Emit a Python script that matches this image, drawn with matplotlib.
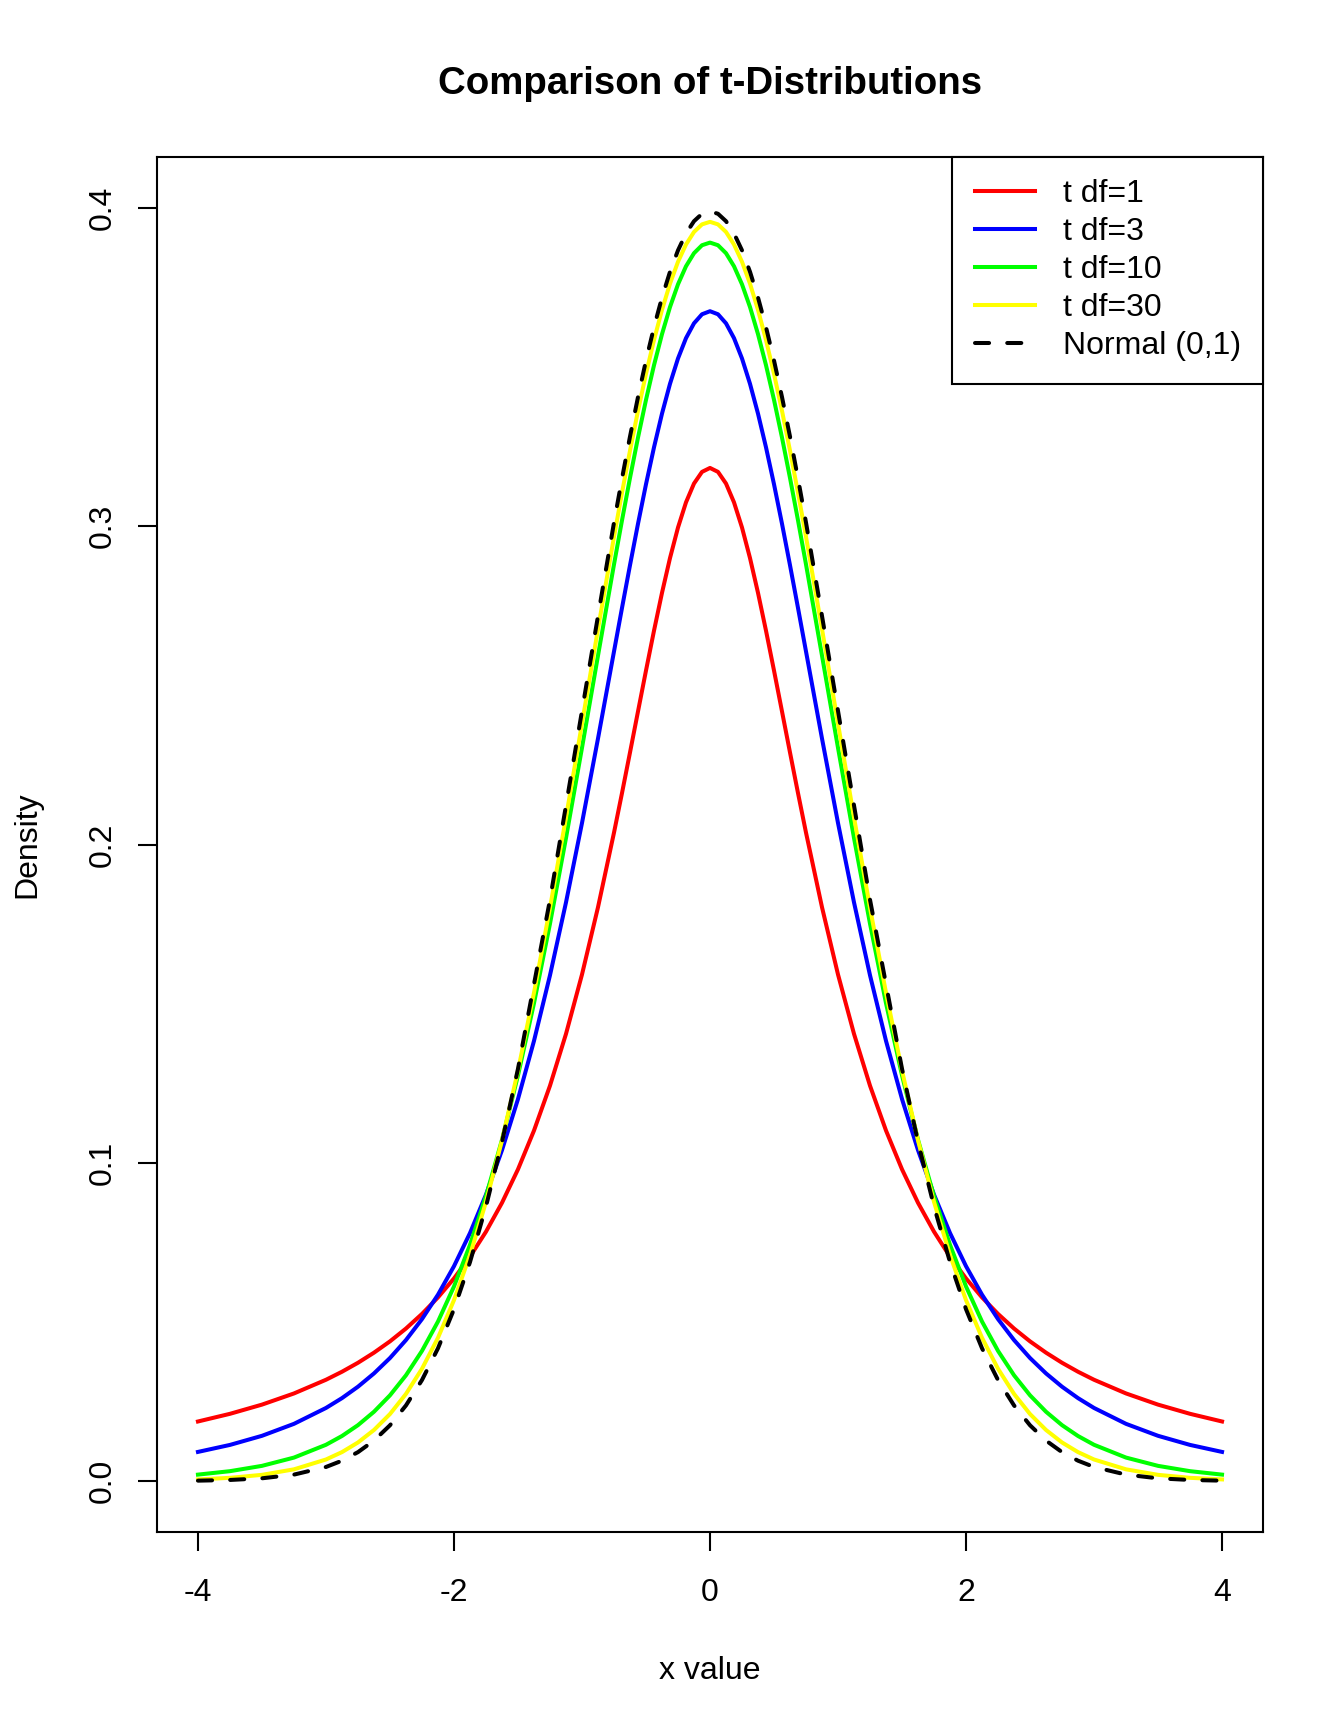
import matplotlib
matplotlib.use('Agg')
import matplotlib.pyplot as plt

plt.rcParams['font.family'] = ['Liberation Sans', 'DejaVu Sans']

x_vals = [-4, -3.75, -3.5, -3.25, -3, -2.875, -2.75, -2.625, -2.5, -2.375,
          -2.25, -2.125, -2, -1.875, -1.75, -1.625, -1.5, -1.375, -1.25, -1.125,
          -1, -0.875, -0.75, -0.6875, -0.625, -0.5625, -0.5, -0.4375, -0.375, -0.3125,
          -0.25, -0.1875, -0.125, -0.0625, 0,
          0.0625, 0.125, 0.1875, 0.25, 0.3125, 0.375, 0.4375, 0.5, 0.5625, 0.625,
          0.6875, 0.75, 0.875, 1, 1.125, 1.25, 1.375, 1.5, 1.625, 1.75,
          1.875, 2, 2.125, 2.25, 2.375, 2.5, 2.625, 2.75, 2.875, 3,
          3.25, 3.5, 3.75, 4]

t_df1 = [0.01872, 0.02113, 0.02402, 0.02753, 0.03183, 0.03435, 0.03717, 0.04034, 0.04390, 0.04793,
         0.05251, 0.05771, 0.06366, 0.07049, 0.07835, 0.08743, 0.09794, 0.11012, 0.12422, 0.14049,
         0.15915, 0.18028, 0.20372, 0.21615, 0.22890, 0.24180, 0.25465, 0.26717, 0.27907, 0.28999,
         0.29959, 0.30750, 0.31341, 0.31707, 0.31831,
         0.31707, 0.31341, 0.30750, 0.29959, 0.28999, 0.27907, 0.26717, 0.25465, 0.24180, 0.22890,
         0.21615, 0.20372, 0.18028, 0.15915, 0.14049, 0.12422, 0.11012, 0.09794, 0.08743, 0.07835,
         0.07049, 0.06366, 0.05771, 0.05251, 0.04793, 0.04390, 0.04034, 0.03717, 0.03435, 0.03183,
         0.02753, 0.02402, 0.02113, 0.01872]

t_df3 = [0.00916, 0.01136, 0.01422, 0.01798, 0.02297, 0.02606, 0.02965, 0.03382, 0.03866, 0.04431,
         0.05089, 0.05856, 0.06751, 0.07792, 0.09000, 0.10397, 0.12002, 0.13830, 0.15891, 0.18180,
         0.20675, 0.23328, 0.26064, 0.27431, 0.28774, 0.30076, 0.31318, 0.32478, 0.33537, 0.34474,
         0.35270, 0.35909, 0.36375, 0.36659, 0.36755,
         0.36659, 0.36375, 0.35909, 0.35270, 0.34474, 0.33537, 0.32478, 0.31318, 0.30076, 0.28774,
         0.27431, 0.26064, 0.23328, 0.20675, 0.18180, 0.15891, 0.13830, 0.12002, 0.10397, 0.09000,
         0.07792, 0.06751, 0.05856, 0.05089, 0.04431, 0.03866, 0.03382, 0.02965, 0.02606, 0.02297,
         0.01798, 0.01422, 0.01136, 0.00916]

t_df10 = [0.00203, 0.00311, 0.00478, 0.00738, 0.01140, 0.01416, 0.01757, 0.02178, 0.02694, 0.03324,
          0.04090, 0.05012, 0.06114, 0.07421, 0.08953, 0.10724, 0.12745, 0.15012, 0.17511, 0.20203,
          0.23036, 0.25933, 0.28799, 0.30183, 0.31516, 0.32784, 0.33970, 0.35058, 0.36034, 0.36886,
          0.37600, 0.38167, 0.38578, 0.38828, 0.38911,
          0.38828, 0.38578, 0.38167, 0.37600, 0.36886, 0.36034, 0.35058, 0.33970, 0.32784, 0.31516,
          0.30183, 0.28799, 0.25933, 0.23036, 0.20203, 0.17511, 0.15012, 0.12745, 0.10724, 0.08953,
          0.07421, 0.06114, 0.05012, 0.04090, 0.03324, 0.02694, 0.02178, 0.01757, 0.01416, 0.01140,
          0.00738, 0.00478, 0.00311, 0.00203]

t_df30 = [0.00052, 0.00102, 0.00196, 0.00369, 0.00678, 0.00910, 0.01213, 0.01605, 0.02106, 0.02739,
          0.03529, 0.04502, 0.05685, 0.07101, 0.08770, 0.10701, 0.12896, 0.15342, 0.18011, 0.20851,
          0.23799, 0.26770, 0.29666, 0.31050, 0.32374, 0.33625, 0.34788, 0.35849, 0.36797, 0.37620,
          0.38307, 0.38851, 0.39245, 0.39483, 0.39563,
          0.39483, 0.39245, 0.38851, 0.38307, 0.37620, 0.36797, 0.35849, 0.34788, 0.33625, 0.32374,
          0.31050, 0.29666, 0.26770, 0.23799, 0.20851, 0.18011, 0.15342, 0.12896, 0.10701, 0.08770,
          0.07101, 0.05685, 0.04502, 0.03529, 0.02739, 0.02106, 0.01605, 0.01213, 0.00910, 0.00678,
          0.00369, 0.00196, 0.00102, 0.00052]

normal_01 = [0.00013, 0.00035, 0.00087, 0.00203, 0.00443, 0.00640, 0.00909, 0.01272, 0.01753, 0.02377,
             0.03174, 0.04172, 0.05399, 0.06879, 0.08628, 0.10654, 0.12952, 0.15608, 0.18265, 0.21226,
             0.24197, 0.27179, 0.30114, 0.31498, 0.32816, 0.34057, 0.35207, 0.36253, 0.37186, 0.37993,
             0.38667, 0.39199, 0.39583, 0.39816, 0.39894,
             0.39816, 0.39583, 0.39199, 0.38667, 0.37993, 0.37186, 0.36253, 0.35207, 0.34057, 0.32816,
             0.31498, 0.30114, 0.27179, 0.24197, 0.21226, 0.18265, 0.15608, 0.12952, 0.10654, 0.08628,
             0.06879, 0.05399, 0.04172, 0.03174, 0.02377, 0.01753, 0.01272, 0.00909, 0.00640, 0.00443,
             0.00203, 0.00087, 0.00035, 0.00013]

x_ticks = [-4, -2, 0, 2, 4]
y_ticks = [0.0, 0.1, 0.2, 0.3, 0.4]
y_tick_labels = ['0.0', '0.1', '0.2', '0.3', '0.4']


def main():
    fig = plt.figure(figsize=(13.44, 17.28), dpi=100)
    ax = fig.add_axes([157 / 1344, 196 / 1728, 1106 / 1344, 1375 / 1728])

    lw = 2.9
    ax.plot(x_vals, t_df1, color='#FF0000', lw=lw, label='t df=1')
    ax.plot(x_vals, t_df3, color='#0000FF', lw=lw, label='t df=3')
    ax.plot(x_vals, t_df10, color='#00FF00', lw=lw, label='t df=10')
    ax.plot(x_vals, t_df30, color='#FFFF00', lw=lw, label='t df=30')
    ax.plot(x_vals, normal_01, color='black', lw=lw, linestyle=(0, (3.5, 4.5)),
            dash_capstyle='round', label='Normal (0,1)')

    ax.set_xlim(-4.32, 4.32)
    ax.set_ylim(-0.016, 0.416)

    for s in ax.spines.values():
        s.set_linewidth(1.5)

    ax.set_xticks(x_ticks)
    ax.set_xticklabels([str(t) for t in x_ticks])
    ax.set_yticks(y_ticks)
    ax.set_yticklabels(y_tick_labels, rotation=90, va='center')
    ax.tick_params(axis='both', direction='out', length=14, width=1.5, labelsize=23)
    ax.tick_params(axis='x', pad=19)
    ax.tick_params(axis='y', pad=14)

    fig.text(710 / 1344, 1 - 94 / 1728, 'Comparison of t-Distributions',
             ha='center', va='baseline', fontsize=27.6, fontweight='bold')
    fig.text(710 / 1344, 1 - 1679 / 1728, 'x value', ha='center', va='baseline', fontsize=23)
    fig.text(35 / 1344, 1 - 844.5 / 1728, 'Density', ha='center', va='baseline', rotation=90,
             rotation_mode='anchor', fontsize=23)

    leg = ax.legend(loc='upper right', bbox_to_anchor=(1, 1), borderaxespad=0,
                    fontsize=23, fancybox=False, framealpha=1, edgecolor='black',
                    handlelength=1.875, handletextpad=0.875, borderpad=0.7,
                    labelspacing=0.25)
    leg.get_frame().set_linewidth(1.5)

    fig.savefig('out.png', dpi=100)


if __name__ == "__main__":
    main()
